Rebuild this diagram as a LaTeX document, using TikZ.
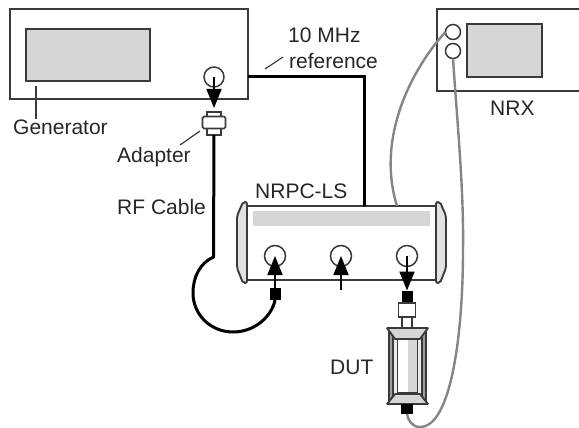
\documentclass[tikz,border=0pt]{standalone}
\usepackage{fontspec}
\setmainfont{Liberation Sans}
\usetikzlibrary{arrows.meta}
\definecolor{edgegray}{HTML}{3A3A3A}
\definecolor{fillgray}{HTML}{D6D6D6}
\definecolor{linegray}{HTML}{858585}
\tikzset{
  box/.style={draw=edgegray, line width=1.9pt, inner sep=0pt, outer sep=0pt},
  panel/.style={box, fill=fillgray},
  port/.style={circle, draw=edgegray, line width=1.5pt, fill=white, inner sep=0pt, outer sep=0pt, minimum size=#1},
  plug/.style={fill=black, inner sep=0pt, outer sep=0pt, minimum width=11pt, minimum height=12pt},
  fitting/.style={draw=edgegray, line width=1.7pt, fill=white, inner sep=0pt, outer sep=0pt},
  cable/.style={line width=3pt, black},
  probe/.style={line width=2.4pt, linegray},
  leader/.style={line width=1.2pt, edgegray},
  tipline/.style={line width=1.7pt, black, -{Triangle[length=19pt,width=15pt]}},
  label/.style={font=\fontsize{21}{25}\selectfont, text=black!85, inner sep=0pt}
}
\begin{document}
\begin{tikzpicture}[x=1pt,y=-1pt]
\useasboundingbox (0,0) rectangle (579,428);
\clip (0,0) rectangle (579,428);

% instruments
\node[box, minimum width=238pt, minimum height=90pt] (generator) at (129,54) {};
\node[panel, minimum width=124pt, minimum height=52pt] (genscreen) at (88,55) {};
\node[port=20pt] (genport) at (214,77) {};
\node[box, minimum width=190pt, minimum height=82pt] (nrx) at (532,50) {};
\node[panel, minimum width=75pt, minimum height=53pt] (nrxscreen) at (504.5,50.5) {};
\node[port=15pt] (nrxa) at (453,32) {};
\node[port=15pt] (nrxb) at (453,51) {};

% NRPC-LS body with its end caps
\draw[box, fill=fillgray!70, rounded corners=2pt] (247,202) -- (243,202) -- (237,216)
  -- (237,268) -- (243,283) -- (247,283) -- cycle;
\draw[box, fill=fillgray!70, rounded corners=2pt] (436,202) -- (440,202) -- (446,216)
  -- (446,268) -- (440,283) -- (436,283) -- cycle;
\node[box, fill=white, minimum width=189pt, minimum height=74pt] (sensor) at (341.5,243) {};
\node[fill=fillgray, inner sep=0pt, minimum width=177pt, minimum height=15pt] (bar) at (341.5,218.5) {};
\node[port=21pt] (porta) at (275,256) {};
\node[port=21pt] (portb) at (341,256) {};
\node[port=21pt] (portc) at (407,256) {};

% adapter
\node[fitting, minimum width=14pt, minimum height=23pt] (adapterbody) at (214,123.5) {};
\node[fitting, rounded corners=1.5pt, minimum width=23pt, minimum height=12pt] (adapter) at (214,122.5) {};

% DUT
\node[plug] (plugc) at (407,296.5) {};
\node[fitting, minimum width=17pt, minimum height=14pt] (dutfit) at (407,310) {};
\node[fitting, line width=1.4pt, minimum width=10pt, minimum height=11pt] (dutneck) at (407,322.5) {};
\node[box, fill=linegray!80, minimum width=37pt, minimum height=76pt] (dut) at (407.5,366) {};
\node[box, line width=1.4pt, fill=fillgray!50, minimum width=29pt, minimum height=62pt] (dutin) at (407.5,366) {};
\node[box, line width=1.4pt, fill=white, minimum width=20pt, minimum height=54pt] (dutcore) at (407.5,366) {};
\node[fill=fillgray, inner sep=0pt, minimum width=9.5pt, minimum height=52pt, anchor=west] (dutshade) at (407.5,366) {};
\draw[box, fill=fillgray, rounded corners=0.5pt] (dut.north west) ++(-2,0) -- ++(41,0) -- ++(-8,11) -- ++(-25,0) -- cycle;
\draw[box, fill=fillgray, rounded corners=0.5pt] (dut.south west) ++(-2,0) -- ++(41,0) -- ++(-8,-10) -- ++(-25,0) -- cycle;
\node[plug, minimum width=12pt, minimum height=10pt] (plugd) at (407,409) {};
\node[plug] (plugb) at (275,294) {};
\coordinate (stub) at (341,290);

% connections
\draw[tipline, shorten >=4pt] (genport.center) -- (adapterbody.north);
\draw[tipline] (plugb.north) -- (porta.center);
\draw[tipline] (stub) -- (portb.center);
\draw[tipline] (portc.center) -- (plugc.north);
\draw[cable] (generator.east |- genport) -| (sensor.north -| 364,0);
\draw[cable] (adapterbody.south) -- (213.5,257)
  .. controls (200,263) and (193,277) .. (193,293)
  .. controls (193,315) and (211,332) .. (233,332)
  .. controls (255,332) and (272,316) .. (plugb.south);
\draw[probe] (nrxa.west) .. controls (415,65) and (375,135) .. (397,206);
\draw[probe] (nrxb.south) .. controls (457,120) and (464,190) .. (463,250)
  .. controls (463,330) and (452,427) .. (420,427)
  .. controls (412,427) and (408,420) .. (plugd.south);

% labels
\node[label, anchor=west] (genlabel) at (13,127) {Generator};
\node[label, anchor=west] (adapterlabel) at (117,157) {Adapter};
\node[label, anchor=west] (cablelabel) at (117,207) {RF Cable};
\node[label, anchor=west] (mhzlabel) at (288,35) {10 MHz};
\node[label, anchor=west] (reflabel) at (289,61) {reference};
\node[label, anchor=west] (nrxlabel) at (490,108) {NRX};
\node[label, anchor=west] (sensorlabel) at (255,191) {NRPC-LS};
\node[label, anchor=west] (dutlabel) at (330,367) {DUT};

\coordinate (genlead) at (36,86);
\coordinate (adaptlead) at (200,131);
\coordinate (reflead) at (265,69);
\draw[leader] (genlead) -- (genlabel.north -| genlead);
\draw[leader] (adaptlead) -- (180,145);
\draw[leader] (reflead) -- (283,57);
\end{tikzpicture}
\end{document}
